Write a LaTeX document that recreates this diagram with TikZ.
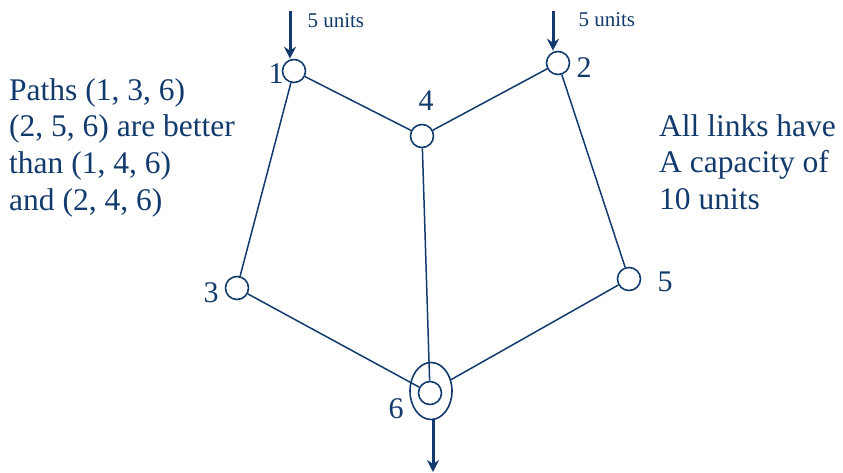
\documentclass[tikz,border=0pt]{standalone}
\usepackage{fontspec}
\setmainfont{Liberation Serif}
\usepackage{tikz}
\usetikzlibrary{arrows.meta,shapes.geometric}
\definecolor{navy}{RGB}{18,58,108}

\begin{document}
\begin{tikzpicture}[x=1pt,y=-1pt,>={Stealth[length=12pt,width=12pt]},
    font=\fontsize{30}{37.5}\selectfont,
    router/.style={circle,draw=navy,line width=1.6pt,minimum size=23pt,inner sep=0pt},
    link/.style={draw=navy,line width=1.5pt},
    flow/.style={->,draw=navy,line width=3pt},
    note/.style={text=navy,anchor=north west,align=left,inner sep=0pt,font=\fontsize{31.5}{36.8}\selectfont}]
  \useasboundingbox (0,0) rectangle (843,472);
  % routers
  \node[router] (n1) at (294,71) {};
  \node[router] (n2) at (558,63) {};
  \node[router] (n4) at (422,136) {};
  \node[router] (n3) at (237,288) {};
  \node[router] (n5) at (629,279) {};
  \node[router] (n6) at (430,393) {};
  \node[ellipse,draw=navy,line width=1.6pt,minimum width=42pt,minimum height=57pt,inner sep=0pt] (n6o) at (431,391) {};
  \node[text=navy] at (276,74) {1};
  \node[text=navy] at (584,68) {2};
  \node[text=navy] at (426,101) {4};
  \node[text=navy] at (211,293) {3};
  \node[text=navy] at (665,282) {5};
  \node[text=navy] at (396,409) {6};
  % links
  \draw[link] (n1) -- (n4);
  \draw[link] (n2) -- (n4);
  \draw[link] (n1) -- (n3);
  \draw[link] (n2) -- (n5);
  \draw[link] (n3) -- (n6);
  \draw[link] (n4) -- (n6);
  \draw[link] (n5) -- (n6o);
  % traffic in and out
  \coordinate (in1) at (290,11);
  \coordinate (in2) at (553,11);
  \coordinate (out6) at (433,472);
  \draw[flow] (in1) -- (in1 |- n1.north);
  \draw[flow] (in2) -- (in2 |- n2.north);
  \draw[flow] (out6 |- n6o.south) -- (out6);
  \node[text=navy,anchor=base west,font=\fontsize{21}{24}\selectfont] at (304,27) {5 units};
  \node[text=navy,anchor=base west,font=\fontsize{21}{24}\selectfont] at (575,26) {5 units};
  % notes
  \node[note] at (9,78)
    {Paths (1, 3, 6)\\(2, 5, 6) are better\\than (1, 4, 6)\\and (2, 4, 6)};
  \node[note] at (659,114)
    {All links have\\A capacity of\\10 units};
\end{tikzpicture}
\end{document}
